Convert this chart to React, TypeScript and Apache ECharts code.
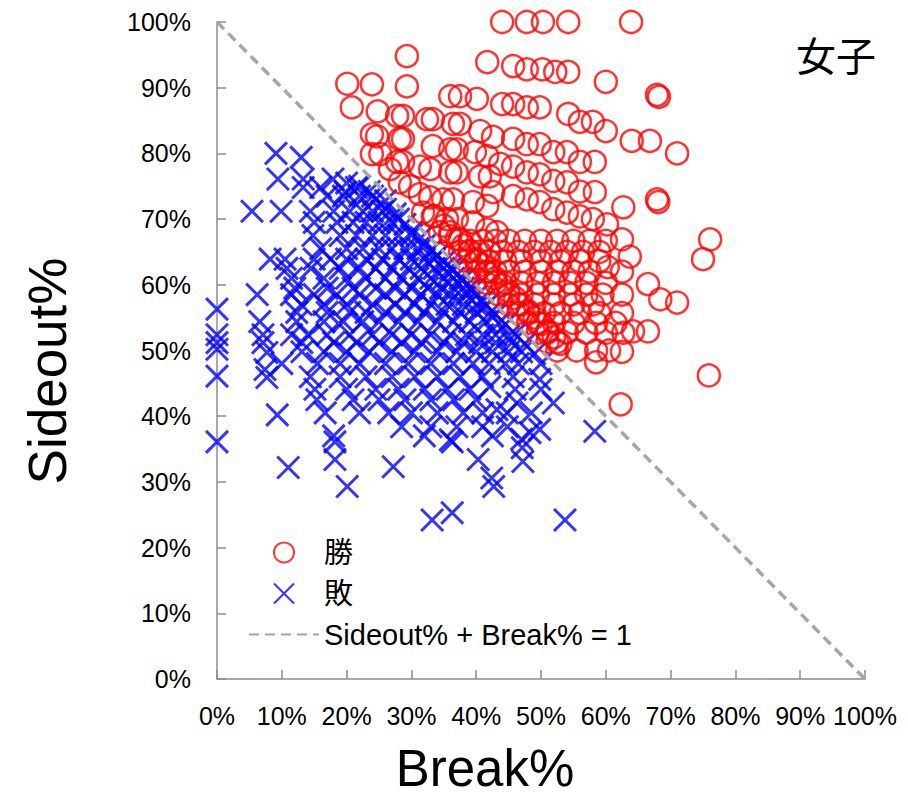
import React, { useEffect, useRef } from "react";
import * as echarts from "echarts";

// [Break%, Sideout%]
const winPoints: number[][] = [
  [44.0, 100], [47.8, 100], [50.3, 100], [54.2, 100], [63.9, 100],
  [29.3, 94.8], [41.7, 93.9], [45.7, 93.3], [47.8, 92.8], [50.2, 92.8], [52.2, 92.4], [54.2, 92.4],
  [20.1, 90.6], [23.9, 90.5], [29.3, 90.2], [60.0, 90.9], [67.9, 88.9], [68.2, 88.6],
  [36.0, 88.7], [37.5, 88.7], [40.1, 88.3], [44.0, 87.5], [45.7, 87.5], [47.8, 87.0], [49.8, 87.0],
  [20.8, 87.0], [24.8, 86.4], [27.8, 85.7], [28.7, 85.7], [32.4, 85.2], [33.3, 85.2], [36.4, 84.5],
  [37.5, 84.5], [40.6, 83.4], [54.2, 86.0], [56.0, 84.8], [58.0, 84.8], [60.0, 83.4], [64.0, 81.9],
  [66.8, 81.9], [71.0, 80.0],
  [23.9, 82.9], [24.7, 82.6], [28.2, 82.2], [28.7, 82.2], [33.3, 81.1], [36.0, 80.6], [37.0, 80.6],
  [39.8, 80.2], [41.7, 79.6], [42.6, 82.5], [45.7, 82.2], [47.8, 81.4], [49.8, 81.4], [51.9, 80.2],
  [54.0, 80.2], [56.0, 78.7], [58.3, 78.7],
  [23.9, 79.9], [25.2, 79.9], [27.8, 78.7], [28.7, 78.7], [31.3, 78.0], [32.9, 77.6], [36.0, 77.1],
  [37.0, 77.1], [40.6, 76.5], [42.1, 76.5], [26.7, 77.6], [43.7, 78.4], [45.7, 78.0], [47.8, 77.1],
  [49.8, 76.8], [51.9, 75.8], [54.0, 75.6], [56.0, 74.2], [58.3, 74.1], [62.7, 71.8], [67.9, 73.0],
  [68.1, 72.6],
  [28.2, 75.6], [29.8, 75.0], [31.3, 73.8], [32.9, 73.3], [34.9, 73.0], [36.4, 73.0], [39.5, 72.6],
  [41.7, 72.0], [42.6, 74.1], [45.7, 73.5], [47.8, 73.0], [49.8, 72.6], [51.9, 71.5], [54.0, 71.0],
  [56.0, 70.4], [58.0, 70.0], [60.2, 69.2],
  [31.8, 71.0], [33.3, 70.4], [35.5, 70.0], [37.0, 70.0], [39.5, 69.5], [41.7, 68.4], [43.2, 68.0],
  [34.4, 68.0], [36.0, 67.4], [37.5, 66.9],
  [62.5, 66.9], [76.1, 66.9], [75.0, 63.9], [63.7, 64.3], [60.3, 62.7], [66.5, 60.1], [68.4, 57.8],
  [71.0, 57.3], [66.5, 52.9], [75.9, 46.2], [62.3, 41.8], [58.5, 48.2],
  [39, 66.7], [41, 66.7], [43, 66.7], [45, 66.7], [47.5, 66.7], [50, 66.7], [52.5, 66.7], [55, 66.7], [57.5, 66.7], [60, 66.7],
  [37.5, 65], [39, 65], [40.5, 65], [42, 65], [44, 65], [46.5, 65], [49, 65], [51.5, 65], [54, 65], [56.5, 65], [59, 65],
  [38.5, 63.6], [40, 63.6], [42, 63.6], [44.5, 63.6], [47, 63.6], [50, 63.6], [53, 63.6], [56, 63.6], [59, 63.6],
  [40, 62], [41.5, 62], [43, 62], [45, 62], [47.5, 62], [50, 62], [52.5, 62], [55, 62], [57.5, 62], [62.5, 62],
  [41.5, 60.3], [43, 60.3], [44.5, 60.3], [47, 60.3], [49.5, 60.3], [52, 60.3], [54.5, 60.3], [57, 60.3], [60, 60.3],
  [43.5, 58.5], [45, 58.5], [47, 58.5], [49.5, 58.5], [52, 58.5], [54.5, 58.5], [57, 58.5], [59.5, 58.5], [62.5, 58.5],
  [45, 57], [46.5, 57], [49, 57], [52, 57], [55, 57], [58, 57],
  [46.5, 55.7], [48, 55.7], [50.5, 55.7], [53, 55.7], [56, 55.7], [59, 55.7], [62.5, 55.7],
  [48, 54.2], [49.5, 54.2], [52, 54.2], [55, 54.2], [58.5, 54.2], [61.5, 54.2],
  [49.5, 52.7], [51, 52.7], [54, 52.7], [57, 52.7], [60, 52.7], [62.7, 52.7], [64.2, 52.9],
  [51, 51.3], [52.5, 51.3],
  [52.5, 50], [55.5, 50], [58.5, 50], [60.5, 50], [62.5, 49.8],
  [33.5, 70.5], [35, 69], [36, 68], [37, 67], [38, 66], [39, 65.2], [40, 64], [41, 63], [42, 62],
  [43, 61], [44, 60], [45, 59], [46, 58], [47, 57], [48, 56], [49, 55], [50, 54], [51, 53], [52, 52], [53, 51],
];

const losePoints: number[][] = [
  [9.1, 80], [13.0, 79.4],
  [9.4, 76.1], [13.3, 76.1], [17.9, 76.1], [20, 75.5],
  [13.3, 74.8], [16, 74.8], [19.8, 74.1], [21.5, 74.8], [23.5, 74.2],
  [17, 73.5], [19.5, 73.5], [22, 73.5], [24.5, 73], [26, 72.8],
  [5.4, 71.2], [9.9, 71.2], [14.4, 71.2], [18, 71.2], [20.5, 71.2], [22.5, 71.2], [24, 71.2], [25.5, 71.2], [27.5, 70.8],
  [15, 69.5], [18.5, 69.5], [21, 69.5], [23, 69.5], [25, 69.5], [27, 69.5], [29, 69.2],
  [14.8, 67.5], [19, 67.5], [21.5, 67.5], [24, 67.5], [26, 67.5], [28, 67.5], [30, 67.5], [31.5, 67.2],
  [16, 65.5], [20, 65.5], [22.5, 65.5], [25, 65.5], [27, 65.5], [29, 65.5], [31, 65.5], [33, 65.2],
  [8.2, 63.9], [10.5, 63.9], [15, 63.9], [17.5, 63.9], [20, 63.9], [23, 63.9], [25.5, 63.9], [28, 63.9], [30, 63.9], [32, 63.9], [33.5, 63.9], [35, 63.5],
  [10.8, 62.5], [14.5, 62.5], [19, 62.5], [22, 62.5], [24.5, 62.5], [27, 62.5], [29.5, 62.5], [31.5, 62.5], [33.5, 62.5], [35, 62.5], [36.5, 62.3],
  [11.5, 61], [16.5, 61], [20, 61], [23, 61], [26, 61], [28.5, 61], [31, 61], [33, 61], [35, 61], [36.5, 61], [38, 60.8],
  [12, 59.5], [17, 59.5], [21, 59.5], [24.5, 59.5], [27.5, 59.5], [30, 59.5], [32.5, 59.5], [34.5, 59.5], [36.5, 59.5], [38, 59.5], [39.5, 59.3],
  [6.2, 58.5], [11.5, 58.5], [15, 58.5], [18.5, 58.5], [22, 58.5], [26, 58.5], [29, 58.5], [31.5, 58.5], [34, 58.5], [36, 58.5], [38.5, 58.5], [40, 58.3],
  [13, 57], [16.5, 57], [20, 57], [24, 57], [27.5, 57], [30.5, 57], [33, 57], [35.5, 57], [38, 57], [40, 57], [41.5, 56.8],
  [0, 56.3], [12.3, 55.8], [17, 55.8], [20.5, 55.8], [23, 55.8], [26, 55.8], [29, 55.8], [32, 55.8], [35, 55.8], [37.5, 55.8], [40, 55.8], [42, 55.6],
  [6.6, 54.4], [12.3, 54.4], [16.5, 54.4], [19.5, 54.4], [22.5, 54.4], [25, 54.4], [28, 54.4], [31, 54.4], [34, 54.4], [36.5, 54.4], [39, 54.4], [41.5, 54.4], [43.5, 54.2],
  [0, 52.4], [7.1, 52.4], [11.5, 52.4], [14, 52.4], [17, 52.4], [20.5, 52.4], [24, 52.4], [27, 52.4], [30, 52.4], [33, 52.4], [36, 52.4], [38.5, 52.4], [41, 52.4], [43, 52.4], [45, 52.2],
  [0, 51.2], [7.1, 51.2], [13.1, 51.2], [18, 51.2], [21.5, 51.2], [25, 51.2], [28.5, 51.2], [31.5, 51.2], [35, 51.2], [38, 51.2], [40.5, 51.2], [43, 51.2], [45.5, 51.2],
  [0, 50.2], [7.7, 49.7], [13.1, 49.8], [16.5, 49.8], [20, 49.8], [23.5, 49.8], [27, 49.8], [30.5, 49.8], [34, 49.8], [37, 49.8], [40, 49.8], [42.5, 49.8], [45, 49.8], [47, 49.8],
  [10, 48], [15.5, 48], [19, 48], [22, 48], [26, 48], [29.5, 48], [33, 48], [36.5, 48], [39.5, 48], [42, 48], [44.5, 48], [46.5, 48],
  [7.4, 47.1],
  [0, 46.1], [7.7, 45.9], [14.4, 46], [19, 46], [23, 46], [27, 46], [30.5, 46], [34, 46], [37.5, 46], [41, 46], [45.7, 46], [49.8, 45.6],
  [15.1, 44.1], [20, 44.1], [24.5, 44.1], [28, 44.1], [32, 44.1], [35.5, 44.1], [39, 44.1], [42.1, 44.5], [46, 44.1], [50, 44.1],
  [15.4, 42.5], [21, 42.5], [25, 42.5], [29, 42.5], [33, 42.5], [36.5, 42.5], [40, 42.5], [43.2, 41], [46.3, 42], [51.9, 42],
  [9.3, 40.2], [16.7, 40.5], [22, 40.5], [26.5, 40.5], [30, 40.5], [34, 40.5], [38, 40.5], [41, 40.5], [44.8, 40.5], [48.5, 40.5],
  [28.5, 38.4], [33, 38.4], [37, 38.4], [41, 38.4], [44.8, 38.4], [49.8, 38], [58.3, 37.7],
  [18, 37], [32, 37], [36, 36.4], [42.5, 37], [47, 36.5], [48.3, 37.5],
  [0, 36.1], [18.2, 36.1], [36.3, 36.1], [47.1, 35.2],
  [18.2, 33.4], [40.3, 33.4], [47.2, 33.1],
  [11, 32.2], [27.2, 32.3],
  [42.4, 30.6], [20.1, 29.3], [42.7, 29.3],
  [36.3, 25.3], [33.2, 24.2], [53.7, 24.2],
  [22, 75], [24, 73.5], [26, 71.5], [28, 70], [30, 68], [32, 66], [34, 64.5], [36, 62.5], [37.5, 61],
  [39, 59.5], [41, 57.5], [43, 55.5], [44.5, 54], [46, 52.5], [47.5, 51], [49, 49.5], [50, 48],
];

const refLine: number[][] = [[0, 100], [100, 0]];

const seriesNames = ["勝", "敗", "Sideout% + Break% = 1"];
const xName = "Break%";
const yName = "Sideout%";
const titleText = "女子";

const FONT = "'Liberation Sans', Arial, 'Noto Sans CJK JP', sans-serif";

export default function App() {
  const ref = useRef<HTMLDivElement>(null);
  useEffect(() => {
    document.body.style.margin = "0";
    const chart = echarts.init(ref.current!, undefined, { renderer: "svg" });
    const axisCommon = {
      type: "value" as const,
      min: 0,
      max: 100,
      interval: 10,
      splitLine: { show: false },
      axisLine: { show: true, lineStyle: { color: "#8c8c8c", width: 1.5 } },
      axisTick: { show: true, inside: true, length: 9, lineStyle: { color: "#8c8c8c", width: 1.5 } },
    };
    chart.setOption({
      animation: false,
      textStyle: { fontFamily: FONT },
      title: {
        text: titleText,
        right: 27,
        top: 32,
        textStyle: { fontSize: 40, fontWeight: "normal", color: "#000", fontFamily: FONT },
      },
      graphic: [
        {
          type: "text",
          x: 485,
          y: 768,
          style: {
            text: xName,
            font: "51px " + FONT,
            lineHeight: 50,
            fill: "#000",
            align: "center",
            verticalAlign: "middle",
          },
        },
        {
          type: "text",
          x: 47,
          y: 371,
          rotation: Math.PI / 2,
          style: {
            text: yName,
            font: "53px " + FONT,
            fill: "#000",
            align: "center",
            verticalAlign: "middle",
          },
        },
      ],
      grid: { left: 217, right: 43, top: 22, bottom: 118, containLabel: false },
      legend: {
        orient: "vertical",
        left: 243,
        top: 533,
        itemWidth: 70,
        itemHeight: 20,
        itemGap: 12,
        textStyle: { fontSize: 29, color: "#000", fontFamily: FONT },
        data: [
          { name: seriesNames[0] },
          { name: seriesNames[1] },
          { name: seriesNames[2], itemStyle: { opacity: 0 } },
        ],
      },
      xAxis: {
        ...axisCommon,
        axisLabel: { formatter: "{value}%", fontSize: 25, color: "#000", margin: 24, fontFamily: FONT },
      },
      yAxis: {
        ...axisCommon,
        axisLabel: { formatter: "{value}%", fontSize: 25, color: "#000", margin: 26, fontFamily: FONT },
      },
      series: [
        {
          name: seriesNames[0],
          type: "scatter",
          symbol: "circle",
          symbolSize: 22,
          itemStyle: { color: "transparent", borderColor: "#ff0000", borderWidth: 2.5 },
          data: winPoints,
          z: 3,
        },
        {
          name: seriesNames[1],
          type: "scatter",
          symbol: "path://M0,0L10,10M10,0L0,10",
          symbolSize: 22,
          itemStyle: { color: "#0000ff", borderColor: "#0000ff", borderWidth: 3 },
          data: losePoints,
          z: 2,
        },
        {
          name: seriesNames[2],
          type: "line",
          symbol: "none",
          showSymbol: false,
          data: refLine,
          lineStyle: { color: "#a6a6a6", width: 3.5, type: [10, 6] },
          itemStyle: { color: "#a6a6a6" },
          z: 4,
        },
      ],
    });
    return () => chart.dispose();
  }, []);
  return <div ref={ref} style={{ width: 908, height: 797 }} />;
}
